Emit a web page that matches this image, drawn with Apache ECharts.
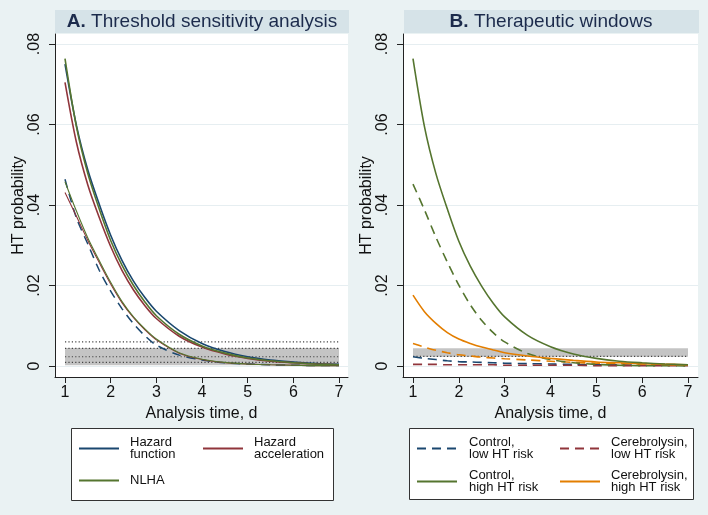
<!DOCTYPE html>
<html><head><meta charset="utf-8">
<script src="https://cdn.jsdelivr.net/npm/echarts@6/dist/echarts.min.js"></script>
<style>html,body{margin:0;padding:0;background:#EAF2F3}#c{width:708px;height:515px}</style>
</head><body><div id="c"></div>
<script>
// ---------- data ----------
const days = [1,1.25,1.5,1.75,2,2.25,2.5,2.75,3,3.5,4,4.5,5,5.5,6,6.5,7];
const xTicks = [1,2,3,4,5,6,7];
const xTickLabels = ['1','2','3','4','5','6','7'];
const yTicks = [0,0.02,0.04,0.06,0.08];
const yTickLabels = ['0','.02','.04','.06','.08'];

// Panel A: threshold sensitivity analysis
const hazFnHigh  = [0.0750,0.0598,0.0487,0.0402,0.0325,0.0262,0.0211,0.0170,0.0136,0.0088,0.0056,0.0036,0.0023,0.0015,0.0010,0.0006,0.0004];
const hazAccHigh = [0.0705,0.0556,0.0450,0.0369,0.0297,0.0237,0.0189,0.0150,0.0118,0.0074,0.0047,0.0030,0.0019,0.0012,0.0008,0.0005,0.0003];
const nlhaHigh   = [0.0764,0.0595,0.0478,0.0390,0.0312,0.0250,0.0200,0.0159,0.0125,0.0079,0.0050,0.0032,0.0020,0.0013,0.0008,0.0005,0.0003];
const hazFnLow   = [0.0464,0.0368,0.0303,0.0238,0.0186,0.0142,0.0105,0.0075,0.0052,0.0027,0.0015,0.0008,0.0005,0.0003,0.0002,0.0001,0.0001];
const hazAccLow  = [0.0431,0.0372,0.0312,0.0257,0.0204,0.0157,0.0120,0.0090,0.0065,0.0032,0.0016,0.0008,0.0005,0.0003,0.0002,0.0001,0.0001];
const nlhaLow    = [0.0458,0.0385,0.0318,0.0262,0.0208,0.0160,0.0122,0.0092,0.0067,0.0033,0.0017,0.0009,0.0005,0.0003,0.0002,0.0001,0.0001];
const bandA = [0.0002, 0.0045];
const dottedA = [0.0060, 0.0044, 0.0023, 0.0009];

// Panel B: therapeutic windows
const controlLow        = [0.0023,0.0019,0.0016,0.0013,0.0011,0.0010,0.0009,0.0008,0.0007,0.0006,0.0005,0.0004,0.0003,0.0003,0.0002,0.0002,0.0002];
const cerebLow          = [0.0004,0.0004,0.0004,0.0003,0.0003,0.0003,0.0003,0.0003,0.0002,0.0002,0.0002,0.0002,0.0001,0.0001,0.0001,0.0001,0.0001];
const controlHigh       = [0.0764,0.0595,0.0478,0.0390,0.0310,0.0248,0.0198,0.0156,0.0122,0.0076,0.0048,0.0030,0.0019,0.0012,0.0008,0.0005,0.0003];
const cerebHigh         = [0.0176,0.0135,0.0106,0.0083,0.0067,0.0056,0.0047,0.0040,0.0033,0.0025,0.0019,0.0014,0.0010,0.0008,0.0006,0.0004,0.0003];
const controlHighDashed = [0.0452,0.0388,0.0320,0.0258,0.0201,0.0152,0.0113,0.0083,0.0060,0.0031,0.0016,0.0008,0.0004,0.0002,0.0001,0.0001,0.0000];
const cerebHighDashed   = [0.0056,0.0047,0.0039,0.0033,0.0028,0.0025,0.0022,0.0020,0.0018,0.0015,0.0012,0.0009,0.0007,0.0006,0.0005,0.0004,0.0003];
const bandB = [0.0023, 0.0044];
const dottedB = [0.0024];

const titleA = ['A.', 'Threshold sensitivity analysis'];
const titleB = ['B.', 'Therapeutic windows'];
const legendLabels = {
  'Hazard function': 'Hazard\nfunction',
  'Hazard acceleration': 'Hazard\nacceleration',
  'NLHA': 'NLHA',
  'Control, low HT risk': 'Control,\nlow HT risk',
  'Cerebrolysin, low HT risk': 'Cerebrolysin,\nlow HT risk',
  'Control, high HT risk': 'Control,\nhigh HT risk',
  'Cerebrolysin, high HT risk': 'Cerebrolysin,\nhigh HT risk'
};

// ---------- style ----------
const FONT = 'Liberation Sans, Arial, Helvetica, sans-serif';
const NAVY = '#1A476F', MAROON = '#90353B', GREEN = '#55752F', ORANGE = '#E37E00';
const DASH = [9, 6];
const Y_MIN = -0.00273, Y_MAX = 0.0825;

function pairs(vals) { return days.map((d, i) => [d, vals[i]]); }

function curve(name, gi, vals, color, width, dash) {
  return {
    name, type: 'line', xAxisIndex: gi, yAxisIndex: gi, data: pairs(vals),
    symbol: 'none', showSymbol: false, smooth: 0.3,
    lineStyle: { color, width, type: dash || 'solid', cap: 'butt' },
    itemStyle: { color }, z: 5, silent: true
  };
}
function hline(gi, v, band) {
  const s = {
    type: 'line', xAxisIndex: gi, yAxisIndex: gi, data: [[1, v], [7, v]],
    symbol: 'none', lineStyle: { color: '#444', width: 1.2, type: [1.2, 2.2] }, z: 3, silent: true
  };
  if (band) {
    s.markArea = { silent: true, itemStyle: { color: '#C4C4C4' },
      data: [[{ coord: [1, band[0]] }, { coord: [7, band[1]] }]] };
  }
  return s;
}

function xAxis(gi, min, max) {
  return {
    gridIndex: gi, type: 'value', min, max,
    axisLine: { show: true, onZero: false, lineStyle: { color: '#222', width: 1 } },
    axisTick: { show: true, length: 6, customValues: xTicks, lineStyle: { color: '#222' } },
    axisLabel: { customValues: xTicks, margin: 8, fontSize: 16, color: '#111', fontFamily: FONT,
      formatter: v => xTickLabels[xTicks.indexOf(Math.round(v))] },
    splitLine: { show: false },
    name: 'Analysis time, d', nameLocation: 'middle', nameGap: 26,
    nameTextStyle: { fontSize: 16, color: '#111', fontFamily: FONT }
  };
}
function yAxis(gi) {
  return {
    gridIndex: gi, type: 'value', min: Y_MIN, max: Y_MAX,
    axisLine: { show: true, onZero: false, lineStyle: { color: '#222', width: 1 } },
    axisTick: { show: true, length: 6, customValues: yTicks, lineStyle: { color: '#222' } },
    axisLabel: { customValues: yTicks, rotate: 90, margin: 12, fontSize: 16, color: '#111', fontFamily: FONT,
      formatter: v => yTickLabels[yTicks.findIndex(t => Math.abs(t - v) < 1e-9)] },
    splitLine: { show: true, lineStyle: { color: '#E6EEF1', width: 1 } },
    name: 'HT probability', nameLocation: 'middle', nameGap: 28,
    nameTextStyle: { fontSize: 16, color: '#111', fontFamily: FONT }
  };
}

function legendItem(name, left, top, padLeft) {
  return {
    show: true, data: [name], left, top, padding: 0, itemWidth: 40, itemHeight: 14,
    selectedMode: false, orient: 'horizontal',
    itemStyle: { opacity: 0, borderWidth: 0 },
    formatter: n => legendLabels[n],
    textStyle: { fontSize: 13, lineHeight: 12, color: '#111', fontFamily: FONT, padding: [0, 0, 0, padLeft] }
  };
}

const series = [
  // Panel A
  hline(0, dottedA[0], bandA), hline(0, dottedA[1]), hline(0, dottedA[2]), hline(0, dottedA[3]),
  curve('Hazard function, lower', 0, hazFnLow, NAVY, 1.5, DASH),
  curve('Hazard acceleration, lower', 0, hazAccLow, MAROON, 1.1),
  curve('NLHA, lower', 0, nlhaLow, GREEN, 1.1),
  curve('Hazard function', 0, hazFnHigh, NAVY, 1.6),
  curve('Hazard acceleration', 0, hazAccHigh, MAROON, 1.6),
  curve('NLHA', 0, nlhaHigh, GREEN, 1.6),
  // Panel B
  hline(1, dottedB[0], bandB),
  curve('Control, low HT risk', 1, controlLow, NAVY, 1.6, DASH),
  curve('Cerebrolysin, low HT risk', 1, cerebLow, MAROON, 1.6, DASH),
  curve('Cerebrolysin, high HT risk, dashed', 1, cerebHighDashed, ORANGE, 1.6, DASH),
  curve('Control, high HT risk, dashed', 1, controlHighDashed, GREEN, 1.6, DASH),
  curve('Cerebrolysin, high HT risk', 1, cerebHigh, ORANGE, 1.6),
  curve('Control, high HT risk', 1, controlHigh, GREEN, 1.6)
];

const chart = echarts.init(document.getElementById('c'), null, { renderer: 'canvas' });
chart.setOption({
  animation: false,
  backgroundColor: '#EAF2F3',
  textStyle: { fontFamily: FONT },
  grid: [
    { left: 55, top: 34, width: 293, height: 343, show: true, backgroundColor: '#fff', borderWidth: 0 },
    { left: 403, top: 34, width: 295, height: 343, show: true, backgroundColor: '#fff', borderWidth: 0 }
  ],
  xAxis: [xAxis(0, 0.781, 7.197), xAxis(1, 0.782, 7.218)],
  yAxis: [yAxis(0), yAxis(1)],
  legend: [
    legendItem('Hazard function', 78, 436, 6),
    legendItem('Hazard acceleration', 202, 436, 6),
    legendItem('NLHA', 78, 474, 6),
    legendItem('Control, low HT risk', 416, 436, 7),
    legendItem('Cerebrolysin, low HT risk', 559, 436, 6),
    legendItem('Control, high HT risk', 416, 469, 7),
    legendItem('Cerebrolysin, high HT risk', 559, 469, 6)
  ],
  graphic: [
    { type: 'rect', left: 55, top: 10, shape: { width: 294, height: 23 }, style: { fill: '#D6E3E8' }, z: -1 },
    { type: 'rect', left: 404, top: 10, shape: { width: 295, height: 23 }, style: { fill: '#D6E3E8' }, z: -1 },
    { type: 'text', x: 202, y: 22, style: { text: '{b|' + titleA[0] + '} ' + titleA[1], align: 'center', verticalAlign: 'middle',
        font: '19px ' + FONT, fill: '#1C2B4C', rich: { b: { fontWeight: 'bold', fontSize: 19, fontFamily: FONT, fill: '#1C2B4C' } } } },
    { type: 'text', x: 551, y: 22, style: { text: '{b|' + titleB[0] + '} ' + titleB[1], align: 'center', verticalAlign: 'middle',
        font: '19px ' + FONT, fill: '#1C2B4C', rich: { b: { fontWeight: 'bold', fontSize: 19, fontFamily: FONT, fill: '#1C2B4C' } } } },
    { type: 'rect', shape: { x: 71.5, y: 428.5, width: 262, height: 72 }, style: { fill: '#fff', stroke: '#333', lineWidth: 1 }, z: -1 },
    { type: 'rect', shape: { x: 409.5, y: 428.5, width: 284, height: 71 }, style: { fill: '#fff', stroke: '#333', lineWidth: 1 }, z: -1 }
  ],
  series
});
</script>
</body></html>
